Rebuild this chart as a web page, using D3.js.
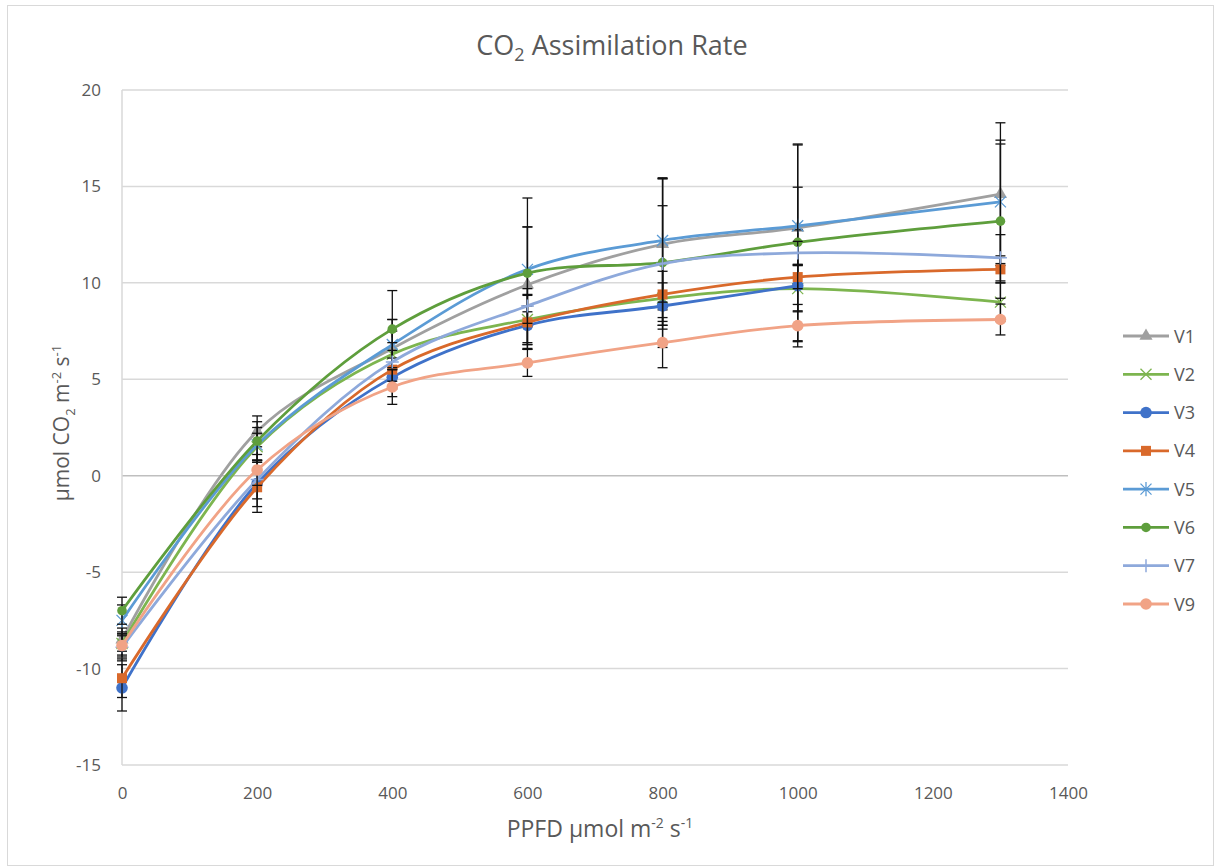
<!DOCTYPE html>
<html>
<head>
<meta charset="utf-8">
<script src="https://cdn.jsdelivr.net/npm/d3@7"></script>
<style>
  body { margin: 0; background: #fff; }
  svg text { font-family: "Open Sans", Lato, sans-serif; fill: #595959; }
</style>
</head>
<body>
<svg id="chart" width="1216" height="868"></svg>
<script>
// PPFD values
const ppfd = [0, 200, 400, 600, 800, 1000, 1300];

// Valeurs
const v1 = [-8.5, 2.3, 6.6, 9.9, 12.0, 12.85, 14.6];
const v2 = [-8.7, 1.5, 6.3, 8.1, 9.2, 9.7, 9.0];
const v3 = [-11.0, -0.4, 5.1, 7.8, 8.8, 9.85, null];
const v4 = [-10.5, -0.6, 5.5, 7.95, 9.4, 10.3, 10.7];
const v5 = [-7.5, 1.6, 6.8, 10.7, 12.2, 12.96, 14.2];
const v6 = [-7.0, 1.8, 7.6, 10.5, 11.05, 12.1, 13.2];
const v7 = [-8.9, -0.2, 5.9, 8.8, 11.0, 11.55, 11.3];
const v9 = [-8.8, 0.3, 4.6, 5.85, 6.9, 7.78, 8.1];

// Barres d'erreur (symétriques)
const e1 = [0.6, 0.8, 1.5, 3.0, 3.4, 4.3, 3.7];
const e2 = [0.6, 0.7, 1.2, 1.3, 1.4, 1.2, 1.0];
const e3 = [1.2, 1.2, 1.0, 1.0, 1.2, 2.9, null];
const e4 = [1.0, 1.3, 1.0, 1.4, 1.6, 0.6, 0.7];
const e5 = [0.8, 0.9, 1.3, 2.2, 3.2, 2.0, 3.2];
const e6 = [0.7, 1.0, 2.0, 3.9, 4.4, 5.1, 4.0];
const e7 = [0.7, 1.0, 1.0, 0.9, 3.0, 0.6, 1.2];
const e9 = [0.6, 0.8, 0.9, 0.7, 1.3, 1.1, 0.8];

const seriesNames = ['V1', 'V2', 'V3', 'V4', 'V5', 'V6', 'V7', 'V9'];
const seriesValues = [v1, v2, v3, v4, v5, v6, v7, v9];
const seriesErrors = [e1, e2, e3, e4, e5, e6, e7, e9];
const seriesColors = ['#a0a0a0', '#7db54f', '#3f72c9', '#d9692b', '#5b9bd5', '#5e9e3c', '#8ea9db', '#f1a386'];
const seriesMarkers = ['triangle', 'x', 'circle', 'square', 'star', 'dot', 'plus', 'circle'];

const xTicks = [0, 200, 400, 600, 800, 1000, 1200, 1400];
const yTicks = [-15, -10, -5, 0, 5, 10, 15, 20];

const svg = d3.select('#chart');

const plotLeft = 122, plotRight = 1068, plotTop = 90, plotBottom = 765;

const xScale = d3.scaleLinear().domain([0, 1400]).range([plotLeft, plotRight]);
const yScale = d3.scaleLinear().domain([-15, 20]).range([plotBottom, plotTop]);

// Cadre du graphique
svg.append('rect')
	.attr('x', 7.5).attr('y', 5.5)
	.attr('width', 1206).attr('height', 860)
	.attr('fill', 'none')
	.attr('stroke', '#d9d9d9');

// Lignes de grille
svg.append('g')
	.selectAll('line')
	.data(yTicks)
	.join('line')
	.attr('x1', plotLeft).attr('x2', plotRight)
	.attr('y1', (d) => yScale(d)).attr('y2', (d) => yScale(d))
	.attr('stroke', (d) => (d === 0 ? '#bfbfbf' : '#d9d9d9'))
	.attr('stroke-width', 1.5);

svg.append('line')
	.attr('x1', plotLeft).attr('x2', plotLeft)
	.attr('y1', plotTop).attr('y2', plotBottom)
	.attr('stroke', '#d9d9d9').attr('stroke-width', 1.5);

// Axes
const fmt = (d) => String(d);

const xAxis = svg.append('g')
	.attr('transform', `translate(0,${plotBottom + 19})`)
	.call(d3.axisBottom(xScale).tickValues(xTicks).tickSize(0).tickFormat(fmt));
xAxis.select('.domain').remove();
xAxis.selectAll('text').attr('font-size', 17).attr('font-family', '"Open Sans", sans-serif').attr('fill', '#595959');

const yAxis = svg.append('g')
	.attr('transform', `translate(${plotLeft - 18},0)`)
	.call(d3.axisLeft(yScale).tickValues(yTicks).tickSize(0).tickFormat(fmt));
yAxis.select('.domain').remove();
yAxis.selectAll('text').attr('font-size', 17).attr('font-family', '"Open Sans", sans-serif').attr('fill', '#595959');

// Titre
const title = svg.append('text')
	.attr('x', 612).attr('y', 55)
	.attr('text-anchor', 'middle')
	.attr('font-size', 27);
title.append('tspan').text('CO');
title.append('tspan').attr('font-size', 18).attr('dy', 6).text('2');
title.append('tspan').attr('dy', -6).text(' Assimilation Rate');

// Titre axe X
const xTitle = svg.append('text')
	.attr('x', 600).attr('y', 837)
	.attr('text-anchor', 'middle')
	.attr('font-size', 23);
xTitle.append('tspan').text('PPFD µmol m');
xTitle.append('tspan').attr('font-size', 14).attr('dy', -9).text('-2');
xTitle.append('tspan').attr('dy', 9).text(' s');
xTitle.append('tspan').attr('font-size', 14).attr('dy', -9).text('-1');

// Titre axe Y
const yTitle = svg.append('text')
	.attr('transform', 'translate(69,423) rotate(-90)')
	.attr('text-anchor', 'middle')
	.attr('font-size', 21);
yTitle.append('tspan').text('µmol CO');
yTitle.append('tspan').attr('font-size', 13).attr('dy', 6).text('2');
yTitle.append('tspan').attr('dy', -6).text(' m');
yTitle.append('tspan').attr('font-size', 13).attr('dy', -8).text('-2');
yTitle.append('tspan').attr('dy', 8).text(' s');
yTitle.append('tspan').attr('font-size', 13).attr('dy', -8).text('-1');

// Dessin d'un marqueur
const drawMarker = (g, type, color, cx, cy) => {
	if (type === 'triangle') {
		g.append('path')
			.attr('d', d3.symbol().type(d3.symbolTriangle).size(75)())
			.attr('transform', `translate(${cx},${cy})`)
			.attr('fill', color);
	} else if (type === 'circle') {
		g.append('circle').attr('cx', cx).attr('cy', cy).attr('r', 5.8).attr('fill', color);
	} else if (type === 'dot') {
		g.append('circle').attr('cx', cx).attr('cy', cy).attr('r', 4.8).attr('fill', color);
	} else if (type === 'square') {
		g.append('rect')
			.attr('x', cx - 5).attr('y', cy - 5)
			.attr('width', 10).attr('height', 10)
			.attr('fill', color);
	} else if (type === 'x' || type === 'star') {
		const r = 5.5;
		g.append('path')
			.attr('d', `M${cx - r},${cy - r}L${cx + r},${cy + r}M${cx - r},${cy + r}L${cx + r},${cy - r}` +
				(type === 'star' ? `M${cx},${cy - r * 1.3}L${cx},${cy + r * 1.3}` : ''))
			.attr('stroke', color).attr('stroke-width', 1.3).attr('fill', 'none');
	} else if (type === 'plus') {
		const r = 6.5;
		g.append('path')
			.attr('d', `M${cx - r},${cy}L${cx + r},${cy}M${cx},${cy - r}L${cx},${cy + r}`)
			.attr('stroke', color).attr('stroke-width', 1.5).attr('fill', 'none');
	}
};

// Courbes
const line = d3.line()
	.x((d) => xScale(d[0]))
	.y((d) => yScale(d[1]))
	.curve(d3.curveCatmullRom.alpha(0.5));

seriesNames.forEach((name, i) => {
	const pts = ppfd.map((x, j) => [x, seriesValues[i][j], seriesErrors[i][j]]).filter((d) => d[1] !== null);
	const g = svg.append('g');

	g.append('path')
		.datum(pts)
		.attr('d', line)
		.attr('fill', 'none')
		.attr('stroke', seriesColors[i])
		.attr('stroke-width', 2.8);

	// Barres d'erreur
	const eb = g.append('g').attr('stroke', '#111').attr('stroke-width', 1.3);
	pts.forEach((d) => {
		const x = xScale(d[0]);
		const y1 = yScale(d[1] + d[2]);
		const y2 = yScale(d[1] - d[2]);
		eb.append('line').attr('x1', x).attr('x2', x).attr('y1', y1).attr('y2', y2);
		eb.append('line').attr('x1', x - 5).attr('x2', x + 5).attr('y1', y1).attr('y2', y1);
		eb.append('line').attr('x1', x - 5).attr('x2', x + 5).attr('y1', y2).attr('y2', y2);
	});

	pts.forEach((d) => drawMarker(g, seriesMarkers[i], seriesColors[i], xScale(d[0]), yScale(d[1])));
});

// Légende
const legendY = d3.scaleLinear().domain([0, 7]).range([336, 604]);
seriesNames.forEach((name, i) => {
	const y = legendY(i);
	const g = svg.append('g');
	g.append('line')
		.attr('x1', 1123).attr('x2', 1169)
		.attr('y1', y).attr('y2', y)
		.attr('stroke', seriesColors[i]).attr('stroke-width', 2.8);
	drawMarker(g, seriesMarkers[i], seriesColors[i], 1146, y);
	g.append('text')
		.attr('x', 1174).attr('y', y + 6.5)
		.attr('font-size', 18)
		.text(name);
});
</script>
</body>
</html>
